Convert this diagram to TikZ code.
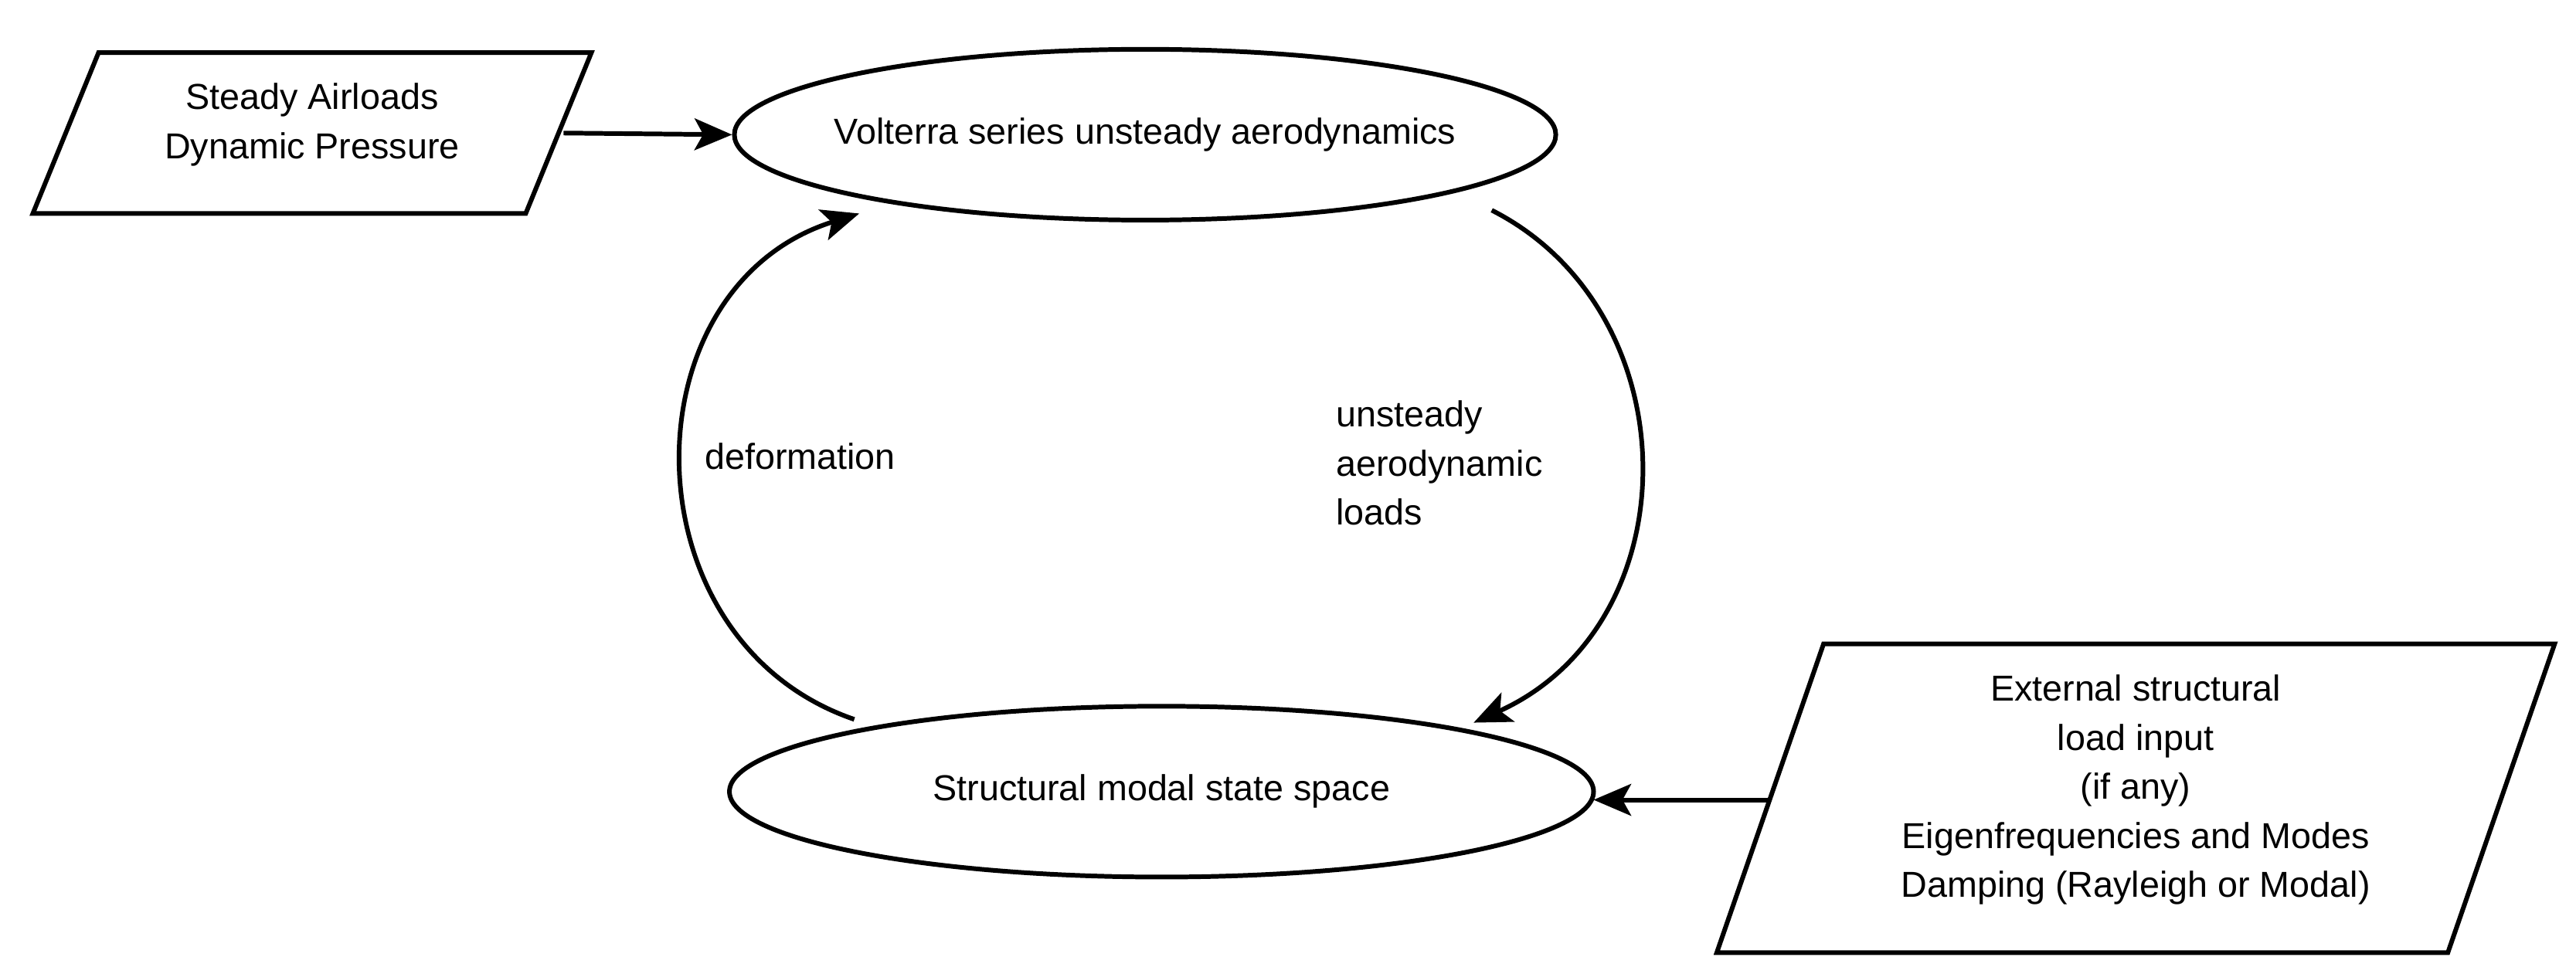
\documentclass[tikz,border=0pt]{standalone}
\usepackage{fontspec}
\setmainfont{Liberation Sans}
\usetikzlibrary{shapes.geometric,arrows.meta}
\begin{document}
\begin{tikzpicture}[x=0.02cm,y=-0.02cm,
	line width=1.6pt,
	blk/.style = {draw, ellipse},
	txt/.style = {align=center, font=\fontsize{12.5}{17}\selectfont},
	arr/.style = {-{Stealth[length=13pt,width=11pt,inset=3pt]}}]
	
	\useasboundingbox (0,0) rectangle (1568,593);
	
	% inputs
	\draw (20,130) -- (60,32) -- (360,32) -- (320,130) -- cycle;
	\node[txt] (airloads) at (190,76) {Steady Airloads\\Dynamic Pressure};
	\draw (1045,580) -- (1110,392) -- (1555,392) -- (1490,580) -- cycle;
	\node[txt] (ext) at (1300,481) {External structural\\load input\\(if any)\\Eigenfrequencies and Modes\\Damping (Rayleigh or Modal)};
	\coordinate (airout) at (343,81);
	\coordinate (extout) at (1077,487);
	
	% blocks
	\node[blk, minimum width=500*0.02cm, minimum height=104*0.02cm] (aero) at (697,82) {};
	\node[txt] at (aero) {Volterra series unsteady aerodynamics};
	\node[blk, minimum width=526*0.02cm, minimum height=104*0.02cm] (struct) at (707,482) {};
	\node[txt] at (struct) {Structural modal state space};
	
	% loop
	\coordinate (defstart) at (520,438);
	\coordinate (defend) at (523,130);
	\coordinate (ldstart) at (908,128);
	\coordinate (ldend) at (897,440);
	\coordinate (structin) at (970,487);
	\draw[arr] (airout) -- (aero.west);
	\draw[arr] (extout) -- (structin);
	\draw[arr] (defstart) .. controls (380,390) and (380,175) .. (defend);
	\draw[arr] (ldstart) .. controls (1030,190) and (1030,380) .. (ldend);
	\node[txt] (deform) at (487,278) {deformation};
	\node[txt, align=left, anchor=west] (loads) at (806,282) {unsteady\\aerodynamic\\loads};
\end{tikzpicture}
\end{document}
